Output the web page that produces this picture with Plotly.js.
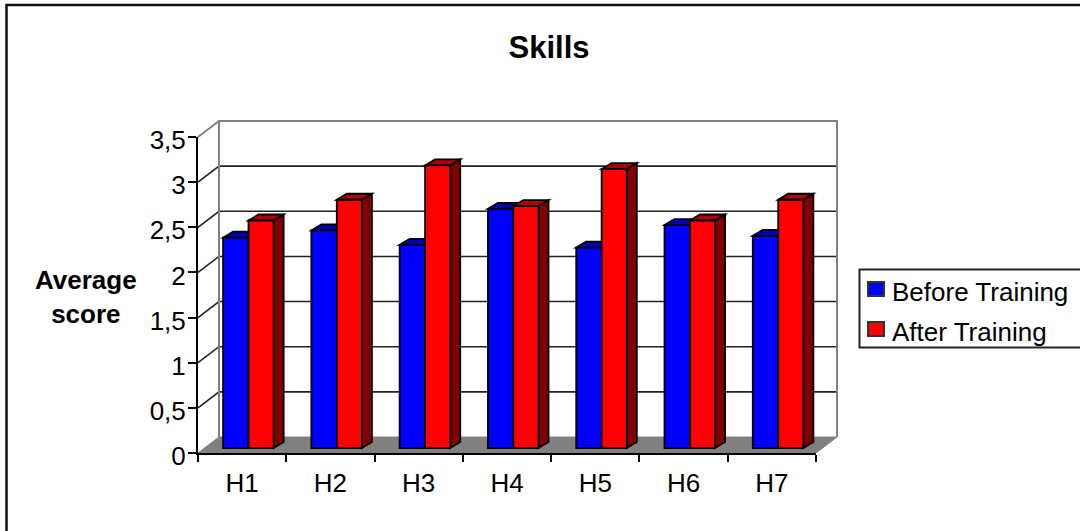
<!DOCTYPE html>
<html>
<head>
<meta charset="utf-8">
<script src="https://cdn.plot.ly/plotly-3.0.1.min.js"></script>
<style>html,body{margin:0;padding:0;background:#fff;overflow:hidden}#chart{width:1080px;height:531px}</style>
</head>
<body>
<div id="chart"></div>
<script>
const categories = ['H1','H2','H3','H4','H5','H6','H7'];
const beforeTraining = [2.33,2.41,2.25,2.65,2.22,2.47,2.35];
const afterTraining = [2.52,2.75,3.13,2.68,3.09,2.52,2.75];
const gridValues = [0.5,1,1.5,2,2.5,3];
const seriesNames = ['Before Training','After Training'];

const W=1080,H=531,L=198,R=816,T=137,B=453;
const pw=R-L, ph=B-T;
const yMax=3.5;
const base=0.055;
const barW=0.29, redW=0.285, offBlue=-0.216, offRed=0.072;
const depthX=10/pw, depthY=6/ph;
const wallX=21/pw, wallY=16/ph;

const px=(i,off)=>(i+0.5+off)/categories.length;
const py=v=>v/yMax;
const sx=x=>(x-L)/pw, sy=y=>(B-y)/ph;
const poly=(pts,fill,line,w)=>({type:'path',xref:'paper',yref:'paper',layer:'below',
  path:'M'+pts.map(p=>p[0]+','+p[1]).join('L')+'Z',fillcolor:fill,line:{color:line,width:w}});
const seg=(pts,color,w)=>({type:'path',xref:'paper',yref:'paper',layer:'below',
  path:'M'+pts.map(p=>p[0]+','+p[1]).join('L'),line:{color:color,width:w}});

const shapes=[];
// outer frame (top and left only)
shapes.push(seg([[sx(6.5),sy(531)],[sx(6.5),sy(5)],[sx(1080),sy(5)]],'#111',2.5));
// back wall gridlines
gridValues.forEach(v=>shapes.push(seg([[0,py(v)],[wallX,py(v)+wallY],[1+wallX,py(v)+wallY]],'#222',1.6)));
// floor
shapes.push(poly([[0,0],[wallX,wallY],[1+wallX,wallY],[1,0]],'#808080','#808080',1));
// walls
shapes.push(seg([[wallX,wallY],[wallX,1+wallY],[1+wallX,1+wallY],[1+wallX,wallY]],'#808080',2));
shapes.push(seg([[0,1],[wallX,1+wallY]],'#808080',2));
// bar depth faces
function faces(vals,off,w,topC,sideC){
  vals.forEach((v,i)=>{
    const x0=px(i,off), x1=x0+w/categories.length, t=py(v+base), b=py(base);
    shapes.push(poly([[x0,t],[x0+depthX,t+depthY],[x1+depthX,t+depthY],[x1,t]],topC,'#000',1.8));
    shapes.push(poly([[x1,t],[x1+depthX,t+depthY],[x1+depthX,b+depthY],[x1,b]],sideC,'#000',1.8));
  });
}
faces(beforeTraining,offBlue,barW,'#0000b0','#000080');
faces(afterTraining,offRed,redW,'#b00000','#800000');

// legend box and swatches
shapes.push(poly([[sx(859.5),sy(269.5)],[sx(1090),sy(269.5)],[sx(1090),sy(347.5)],[sx(859.5),sy(347.5)]],'#fff','#222',2));
shapes.push(poly([[sx(868),sy(282)],[sx(884),sy(282)],[sx(884),sy(296)],[sx(868),sy(296)]],'#0000ff','#333',2));
shapes.push(poly([[sx(868),sy(322)],[sx(884),sy(322)],[sx(884),sy(336)],[sx(868),sy(336)]],'#ff0000','#333',2));

const bar=(name,vals,off,w,color)=>({type:'bar',name:name,x:categories,y:vals,base:base,
  offset:off,width:w,marker:{color:color,line:{color:'#000',width:1.8}},hoverinfo:'name+x+y'});
const data=[bar(seriesNames[0],beforeTraining,offBlue,barW,'#0000ff'),
            bar(seriesNames[1],afterTraining,offRed,redW,'#ff0000')];

const font='"Liberation Sans", Arial, sans-serif';
const tf={family:font,size:26,color:'#000'};
const legendText=(t,y)=>({text:t,xref:'paper',yref:'paper',x:sx(891),y:sy(y),xanchor:'left',yanchor:'middle',
  showarrow:false,align:'left',font:tf,borderpad:0});
const layout={
  width:W,height:H,autosize:false,
  margin:{l:L,r:W-R,t:T,b:H-B,autoexpand:false},
  paper_bgcolor:'#fff',plot_bgcolor:'rgba(0,0,0,0)',
  separators:', ',
  barmode:'overlay',
  showlegend:false,
  font:tf,
  title:{text:'<b>Skills</b>',font:{family:font,size:31,color:'#000'},x:549/W,xanchor:'center',y:1-47/H,yanchor:'middle'},
  xaxis:{type:'category',categoryorder:'array',categoryarray:categories,range:[-0.5,6.5],
    tickson:'boundaries',ticks:'outside',ticklen:7,tickwidth:2,tickcolor:'#000',
    showline:true,linecolor:'#000',linewidth:2,showgrid:false,zeroline:false,ticklabelstandoff:6,
    tickfont:tf},
  yaxis:{range:[0,yMax],dtick:0.5,tick0:0,ticks:'outside',ticklen:8,tickwidth:2,tickcolor:'#000',
    showline:true,linecolor:'#000',linewidth:2,showgrid:false,zeroline:false,
    ticklabelstandoff:-3,ticklabelshift:3,
    tickfont:tf},
  annotations:[{text:'<b>Average<br>score</b>',xref:'paper',yref:'paper',x:sx(86),y:sy(297),
    xanchor:'center',yanchor:'middle',showarrow:false,align:'center',font:tf},
    legendText(seriesNames[0],292),legendText(seriesNames[1],332)],
  shapes:shapes
};
Plotly.newPlot('chart',data,layout,{displayModeBar:false,responsive:false});
</script>
</body>
</html>
